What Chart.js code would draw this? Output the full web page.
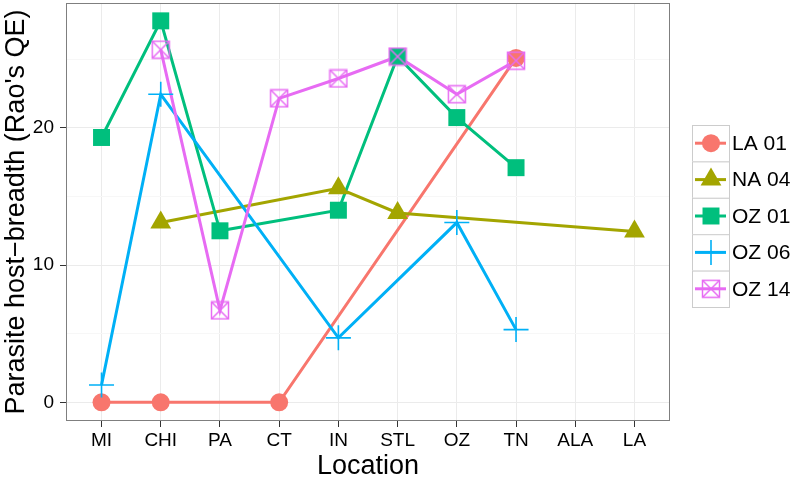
<!DOCTYPE html>
<html>
<head>
<meta charset="utf-8">
<script src="https://cdn.jsdelivr.net/npm/chart.js@4"></script>
<style>
  html, body { margin: 0; padding: 0; background: #fff; }
  #wrap { width: 796px; height: 484px; }
</style>
</head>
<body>
<div id="wrap"><canvas id="chart" width="796" height="484"></canvas></div>
<script>
const locations = ['MI','CHI','PA','CT','IN','STL','OZ','TN','ALA','LA']
const seriesNames = ['LA 01','NA 04','OZ 01','OZ 06','OZ 14']
// one value per location, null = no sample
const la01 = [0, 0, null, 0, null, null, null, 25.1, null, null]
const na04 = [null, 13.1, null, null, 15.6, 13.8, null, null, null, 12.45]
const oz01 = [19.3, 27.8, 12.5, null, 14.0, 25.2, 20.75, 17.1, null, null]
const oz06 = [1.26, 22.45, null, null, 4.7, null, 13.1, 5.3, null, null]
const oz14 = [null, 25.7, 6.7, 22.15, 23.6, 25.2, 22.45, 24.9, null, null]
const yTicks = [0, 5, 10, 15, 20, 25]

const colors = ['#F8766D','#A3A500','#00BF7D','#00B0F6','#E76BF3']
const allValues = [la01, na04, oz01, oz06, oz14]

// square with an X inside (ggplot shape 7)
const boxX = document.createElement('canvas')
boxX.width = 20; boxX.height = 20
{
    const c = boxX.getContext('2d')
    c.strokeStyle = colors[4]
    c.lineWidth = 1.5
    c.strokeRect(1.5, 1.5, 17, 17)
    c.beginPath()
    c.moveTo(1.5,1.5); c.lineTo(18.5,18.5)
    c.moveTo(18.5,1.5); c.lineTo(1.5,18.5)
    c.stroke()
}
const styles = [
    {pointStyle:'circle', radius:9, borderWidth:0},
    {pointStyle:'triangle', radius:12, borderWidth:0},
    {pointStyle:'rect', radius:12, borderWidth:0},
    {pointStyle:'cross', radius:12.5, borderWidth:1.6},
    {pointStyle:boxX, radius:10, borderWidth:0}
]

const toPoints = (arr)=> arr.map((v,i)=> v === null ? null : {x:i, y:v}).filter(p => p)

const datasets = []
// lines first (drawn underneath), then points
for(let i = 0;i < 5;i++){
    datasets.push({
        label: seriesNames[i] + ' line',
        data: toPoints(allValues[i]),
        borderColor: colors[i],
        borderWidth: 3,
        pointRadius: 0,
        fill: false,
        order: 20 - i
    })
}
for(let i = 0;i < 5;i++){
    datasets.push({
        label: seriesNames[i],
        data: toPoints(allValues[i]),
        showLine: false,
        pointStyle: styles[i].pointStyle,
        pointRadius: styles[i].radius,
        pointBorderWidth: styles[i].borderWidth,
        pointBackgroundColor: colors[i],
        pointBorderColor: colors[i],
        order: 10 - i
    })
}

const panelAndLegend = {
    id: 'panelAndLegend',
    afterDraw(chart){
        const ctx = chart.ctx
        const a = chart.chartArea
        ctx.save()
        ctx.strokeStyle = '#7f7f7f'
        ctx.lineWidth = 1
        ctx.strokeRect(a.left + 0.5, a.top + 0.5, a.right - a.left - 1, a.bottom - a.top - 1)

        const kx = 692, ky = 125, kw = 37, kh = 36.4
        for(let i = 0;i < 5;i++){
            const top = ky + i*kh
            ctx.fillStyle = '#ffffff'
            ctx.fillRect(kx, top, kw, kh)
            ctx.strokeStyle = '#cccccc'
            ctx.lineWidth = 1
            ctx.strokeRect(kx + 0.5, top + 0.5, kw, kh)
            const cy = top + kh/2
            ctx.strokeStyle = colors[i]
            ctx.lineWidth = 3
            ctx.beginPath()
            ctx.moveTo(kx + 3, cy); ctx.lineTo(kx + kw - 3, cy)
            ctx.stroke()
            ctx.fillStyle = colors[i]
            ctx.strokeStyle = colors[i]
            ctx.lineWidth = styles[i].borderWidth
            Chart.helpers.drawPoint(ctx, {pointStyle: styles[i].pointStyle, radius: styles[i].radius, rotation: 0, borderWidth: styles[i].borderWidth}, kx + kw/2 + 0.5, cy)
            ctx.fillStyle = '#000'
            ctx.font = '21px "Liberation Sans", Arial, sans-serif'
            ctx.textBaseline = 'middle'
            ctx.textAlign = 'left'
            ctx.fillText(seriesNames[i], kx + kw + 3, cy + 1)
        }
        ctx.restore()
    }
}

const tickFont = {family: '"Liberation Sans", Arial, sans-serif', size: 19}
const titleFont = {family: '"Liberation Sans", Arial, sans-serif', size: 27}

new Chart(document.getElementById('chart'), {
    type: 'line',
    data: {datasets},
    plugins: [panelAndLegend],
    options: {
        responsive: false,
        animation: false,
        events: [],
        layout: {autoPadding: false, padding: {top: 3, right: 126, left: 0, bottom: 0}},
        plugins: {legend: {display: false}, tooltip: {enabled: false}},
        scales: {
            x: {
                type: 'linear',
                min: -0.6,
                max: 9.6,
                afterBuildTicks: (s)=>{ s.ticks = locations.map((l,i)=>({value:i})) },
                afterFit: (s)=>{ s.height = 63; s.paddingLeft = 0; s.paddingRight = 0 },
                ticks: {
                    font: tickFont, color: '#000', padding: 2, maxRotation: 0,
                    autoSkip: false,
                    callback: (v)=> locations[v]
                },
                grid: {color: '#ebebeb', tickColor: '#333', tickLength: 6, lineWidth: 1},
                border: {display: false},
                title: {display: true, text: 'Location', font: titleFont, color: '#000', padding: {top: 0, bottom: 1}}
            },
            y: {
                type: 'linear',
                min: -1.36,
                max: 29.1,
                afterBuildTicks: (s)=>{ s.ticks = yTicks.map(v=>({value:v})) },
                afterFit: (s)=>{ s.width = 66; s.paddingTop = 0; s.paddingBottom = 0 },
                ticks: {
                    font: tickFont, color: '#000', padding: 6,
                    callback: (v)=> v % 10 === 0 ? String(v) : ''
                },
                grid: {
                    color: (c)=> c.tick && c.tick.value % 10 === 0 ? '#ebebeb' : '#f7f7f7',
                    tickColor: (c)=> c.tick && c.tick.value % 10 === 0 ? '#333' : 'rgba(0,0,0,0)',
                    tickLength: 6, lineWidth: 1
                },
                border: {display: false},
                title: {display: true, text: 'Parasite host\u2212breadth (Rao\'s QE)', font: titleFont, color: '#000', padding: {top: 0, bottom: 0}}
            }
        }
    }
})
</script>
</body>
</html>
